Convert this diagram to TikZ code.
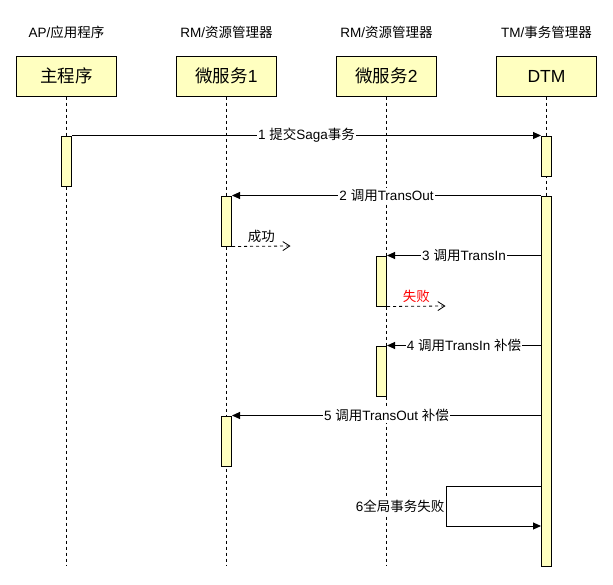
\documentclass[tikz,border=0pt]{standalone}
\usepackage{fontspec}
\setmainfont{Noto Sans CJK SC}
\newfontfamily\lat{Liberation Sans}
\usetikzlibrary{arrows.meta}
\definecolor{lifefill}{HTML}{FFFFC0}
\definecolor{failred}{HTML}{FF0000}
\begin{document}
\begin{tikzpicture}[x=1pt,y=-1pt,
  actor/.style={draw=black, fill=lifefill, line width=1pt, minimum width=100pt, minimum height=40pt, inner sep=0pt, font=\fontsize{17.5}{20}\selectfont},
  role/.style={inner sep=0pt, font=\fontsize{13.5}{16}\selectfont},
  bar/.style={draw=black, fill=lifefill, line width=1pt, minimum width=10pt, inner sep=0pt},
  lifeline/.style={line width=0.8pt, dash pattern=on 3pt off 3pt},
  msg/.style={line width=1pt, -{Triangle[length=8pt,width=7pt]}},
  ret/.style={line width=0.8pt, dash pattern=on 3pt off 3pt, -{Straight Barb[length=7pt,width=9pt,line width=0.8pt]}},
  lbl/.style={fill=white, inner sep=1pt, font=\fontsize{13.5}{16}\selectfont},
  note/.style={inner sep=0pt, font=\fontsize{13.5}{16}\selectfont},
]
\useasboundingbox (0,0) rectangle (613,584);
\fill[white] (0,0) rectangle (613,584);

% roles
\node[role] (r1) at (66.5,32) {{\lat AP/}应用程序};
\node[role] (r2) at (226.5,32) {{\lat RM/}资源管理器};
\node[role] (r3) at (386.5,32) {{\lat RM/}资源管理器};
\node[role] (r4) at (546.5,32) {{\lat TM/}事务管理器};

% participants
\node[actor] (a1) at (66.5,76) {主程序};
\node[actor] (a2) at (226.5,76) {微服务{\lat 1}};
\node[actor] (a3) at (386.5,76) {微服务{\lat 2}};
\node[actor] (a4) at (546.5,76) {\lat DTM};

% lifelines
\coordinate (e1) at (66.5,566);
\coordinate (e2) at (226.5,566);
\coordinate (e3) at (386.5,566);
\coordinate (e4) at (546.5,566);
\draw[lifeline] (a1.south) -- (e1);
\draw[lifeline] (a2.south) -- (e2);
\draw[lifeline] (a3.south) -- (e3);
\draw[lifeline] (a4.south) -- (e4);

% activation bars
\node[bar, minimum height=50pt] (mb) at (66.5,161) {};
\node[bar, minimum height=40pt] (d1) at (546.5,156) {};
\node[bar, minimum height=370pt] (d2) at (546.5,381) {};
\node[bar, minimum height=50pt] (s1a) at (226.5,221) {};
\node[bar, minimum height=50pt] (s1b) at (226.5,441) {};
\node[bar, minimum height=50pt] (s2a) at (381.5,281) {};
\node[bar, minimum height=50pt] (s2b) at (381.5,371) {};

% messages
\draw[msg] (mb.north east) -- (d1.north west)
  node[lbl, midway] {{\lat 1 }提交{\lat Saga}事务};
\draw[msg] (d2.north west) -- (s1a.north east)
  node[lbl, midway] {{\lat 2 }调用{\lat TransOut}};
\draw[msg] (d2.west |- s2a.north east) -- (s2a.north east)
  node[lbl, midway] {{\lat 3 }调用{\lat TransIn}};
\draw[msg] (d2.west |- s2b.north east) -- (s2b.north east)
  node[lbl, midway] {{\lat 4 }调用{\lat TransIn }补偿};
\draw[msg] (d2.west |- s1b.north east) -- (s1b.north east)
  node[lbl, midway] {{\lat 5 }调用{\lat TransOut }补偿};

% returns
\coordinate (ok) at (290.5,246);
\draw[ret] (s1a.south east) -- (ok)
  node[note, midway, above=3pt] {成功};
\coordinate (fail) at (445.5,306);
\draw[ret] (s2a.south east) -- (fail)
  node[note, midway, above=3pt, text=failred] {失败};

% self message
\coordinate (t1) at (446,486);
\coordinate (t2) at (446,526);
\draw[msg] (d2.west |- t1) -- (t1) -- (t2) -- (d2.west |- t2);
\node[lbl, anchor=east, inner sep=1.5pt] (l6) at (446,506) {{\lat 6}全局事务失败};
\end{tikzpicture}
\end{document}
